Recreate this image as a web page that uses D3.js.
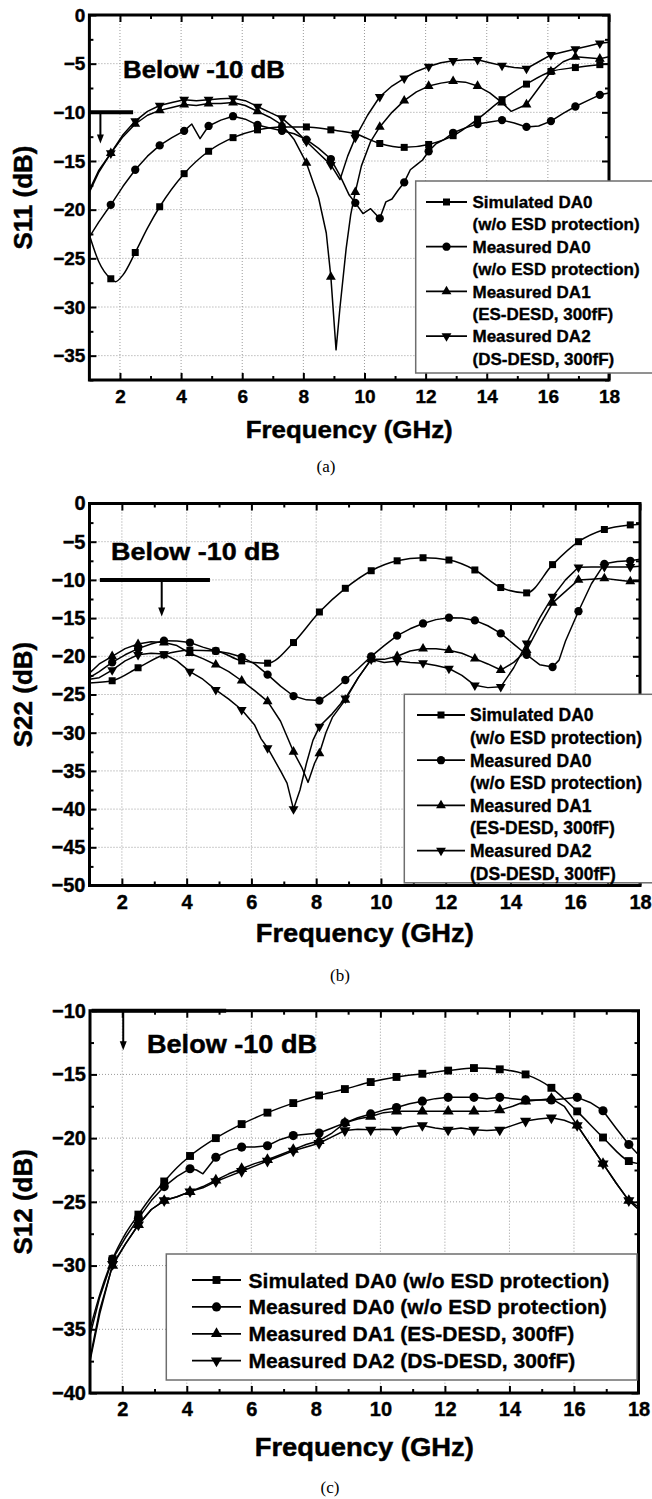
<!DOCTYPE html>
<html>
<head>
<meta charset="utf-8">
<script src="https://cdn.jsdelivr.net/npm/d3@7"></script>
<style>
  body { margin: 0; background: #fff; }
  svg { display: block; }
</style>
</head>
<body>
<svg id="fig" width="652" height="1499"></svg>
<script>
// ---------- data ----------
const freqDomain = [1, 18];
const xTickLabels = [2, 4, 6, 8, 10, 12, 14, 16, 18];
const xMinorTicks = [3, 5, 7, 9, 11, 13, 15, 17];
const markerFreqs = [1.7, 2.5, 3.3, 4.1, 4.9, 5.7, 6.5, 7.3, 8.1, 8.9, 9.7, 10.5,
                     11.3, 12.1, 12.9, 13.7, 14.5, 15.3, 16.1, 16.9, 17.7];

const legendNames = ["Simulated DA0", "Measured DA0", "Measured DA1", "Measured DA2"];
const legendNotes = ["(w/o ESD protection)", "(w/o ESD protection)", "(ES-DESD, 300fF)", "(DS-DESD, 300fF)"];

// S11 (dB) vs frequency (GHz)
const s11Sim = [[1.0,-22.6],[1.3,-25.3],[1.7,-27.1],[1.85,-27.4],[2.1,-26.7],[2.5,-24.4],[2.9,-21.9],[3.3,-19.7],
  [4.1,-16.3],[4.9,-14.0],[5.7,-12.6],[6.5,-11.8],[7.3,-11.5],[8.1,-11.5],[8.9,-11.8],[9.7,-12.2],[10.5,-13.2],
  [11.3,-13.6],[12.1,-13.3],[12.9,-12.4],[13.7,-10.7],[14.5,-8.7],[15.3,-7.1],[16.1,-5.8],[16.9,-5.4],[17.7,-5.1],[18.0,-5.0]];
const s11DA0 = [[1.0,-22.8],[1.3,-21.3],[1.7,-19.5],[2.1,-17.6],[2.5,-15.9],[2.9,-14.5],[3.3,-13.4],[3.7,-12.6],
  [4.1,-11.9],[4.35,-11.2],[4.62,-12.7],[4.9,-11.4],[5.3,-10.8],[5.7,-10.4],[6.1,-10.7],[6.5,-11.3],[6.9,-11.6],
  [7.3,-11.9],[7.7,-12.2],[8.1,-12.8],[8.5,-13.7],[8.9,-14.8],[9.2,-16.5],[9.5,-18.5],[9.7,-19.3],[9.95,-20.4],
  [10.2,-19.9],[10.5,-20.9],[10.7,-19.2],[10.9,-18.9],[11.1,-18.0],[11.3,-17.2],[11.5,-15.9],[11.7,-15.4],
  [11.9,-14.9],[12.1,-14.0],[12.35,-13.2],[12.6,-12.8],[12.9,-12.1],[13.3,-11.6],[13.7,-11.2],[14.1,-11.0],
  [14.5,-10.8],[14.9,-11.1],[15.3,-11.5],[15.7,-11.4],[16.1,-10.9],[16.5,-10.1],[16.9,-9.4],[17.3,-8.8],[17.7,-8.2],[18.0,-8.0]];
const s11DA1 = [[1.0,-18.2],[1.3,-16.2],[1.7,-14.2],[2.1,-12.5],[2.5,-11.2],[2.9,-10.3],[3.3,-9.8],[3.7,-9.5],
  [4.1,-9.2],[4.5,-9.3],[4.9,-9.1],[5.3,-9.1],[5.7,-9.0],[6.1,-9.3],[6.5,-9.9],[6.9,-10.5],[7.3,-11.3],[7.7,-12.8],
  [8.1,-15.2],[8.5,-18.8],[8.75,-22.4],[8.9,-26.9],[9.07,-34.4],[9.2,-30.0],[9.4,-24.0],[9.55,-20.5],[9.7,-18.2],
  [9.9,-15.5],[10.2,-13.0],[10.5,-11.5],[10.9,-10.0],[11.3,-8.8],[11.7,-7.9],[12.1,-7.3],[12.5,-7.0],[12.9,-6.8],
  [13.3,-6.9],[13.7,-7.3],[14.1,-8.0],[14.5,-9.0],[14.8,-9.9],[15.3,-9.2],[15.7,-7.5],[16.1,-5.8],[16.5,-4.8],
  [16.9,-4.3],[17.3,-4.4],[17.7,-4.5],[18.0,-4.3]];
const s11DA2 = [[1.0,-18.0],[1.3,-16.0],[1.7,-14.2],[2.1,-12.3],[2.5,-10.9],[2.9,-9.9],[3.3,-9.3],[3.7,-9.0],
  [4.1,-8.7],[4.5,-8.8],[4.9,-8.7],[5.3,-8.6],[5.7,-8.55],[6.1,-8.8],[6.5,-9.4],[6.9,-10.0],[7.3,-10.6],[7.7,-11.7],
  [8.1,-13.0],[8.5,-14.2],[8.9,-15.4],[9.2,-16.9],[9.45,-14.5],[9.7,-12.6],[10.1,-10.3],[10.5,-8.4],[10.9,-7.3],
  [11.3,-6.5],[11.7,-5.8],[12.1,-5.3],[12.5,-4.9],[12.9,-4.7],[13.3,-4.6],[13.7,-4.6],[14.1,-4.9],[14.5,-5.2],
  [14.9,-5.4],[15.3,-5.5],[15.7,-4.8],[16.1,-4.1],[16.5,-3.8],[16.9,-3.5],[17.3,-3.2],[17.7,-2.9],[18.0,-2.8]];

// S22 (dB) vs frequency (GHz)
const s22Sim = [[1.0,-23.5],[1.7,-23.2],[2.5,-21.5],[3.3,-19.8],[4.1,-19.2],[4.9,-19.3],[5.7,-20.6],[6.5,-20.9],
  [7.3,-18.2],[8.1,-14.2],[8.9,-11.1],[9.7,-8.8],[10.5,-7.5],[11.3,-7.1],[12.1,-7.4],[12.9,-8.7],[13.7,-11.0],
  [14.5,-11.7],[15.3,-8.0],[16.1,-5.0],[16.9,-3.4],[17.7,-2.8],[18.0,-2.7]];
const s22DA0 = [[1.0,-22.8],[1.3,-22.0],[1.7,-20.8],[2.1,-19.8],[2.5,-19.0],[2.9,-18.4],[3.3,-17.95],[3.7,-18.0],
  [4.1,-18.2],[4.5,-18.8],[4.9,-19.3],[5.3,-19.6],[5.7,-20.1],[6.1,-21.0],[6.5,-22.4],[6.9,-23.9],[7.3,-25.2],
  [7.7,-25.7],[8.1,-25.8],[8.5,-24.6],[8.9,-23.1],[9.3,-21.6],[9.7,-20.0],[10.1,-18.6],[10.5,-17.3],[10.9,-16.4],
  [11.3,-15.7],[11.7,-15.2],[12.1,-14.95],[12.5,-15.0],[12.9,-15.3],[13.3,-16.0],[13.7,-17.0],[14.1,-18.4],
  [14.5,-19.8],[14.9,-21.1],[15.3,-21.4],[15.5,-20.5],[15.7,-18.0],[16.1,-14.1],[16.5,-10.5],[16.9,-7.9],
  [17.3,-7.6],[17.7,-7.5],[18.0,-7.3]];
const s22DA1 = [[1.0,-22.2],[1.3,-21.0],[1.7,-20.0],[2.1,-19.0],[2.5,-18.4],[2.9,-18.1],[3.3,-18.2],[3.7,-18.6],
  [4.1,-19.6],[4.5,-20.3],[4.9,-21.1],[5.3,-22.0],[5.7,-23.2],[6.1,-24.5],[6.5,-25.9],[6.9,-28.5],[7.3,-32.5],
  [7.55,-34.5],[7.75,-36.5],[7.95,-34.0],[8.1,-32.7],[8.3,-30.0],[8.5,-28.0],[8.9,-25.7],[9.3,-22.8],[9.7,-20.4],
  [10.1,-20.4],[10.5,-20.0],[10.9,-19.3],[11.3,-19.0],[11.7,-19.0],[12.1,-19.2],[12.5,-19.6],[12.9,-20.3],
  [13.3,-21.0],[13.7,-21.8],[14.1,-20.8],[14.5,-19.2],[14.9,-16.0],[15.3,-13.0],[15.7,-11.5],[16.1,-10.0],
  [16.5,-9.9],[16.9,-9.8],[17.3,-10.0],[17.7,-10.2],[18.0,-10.2]];
const s22DA2 = [[1.0,-23.0],[1.3,-22.8],[1.7,-21.8],[2.1,-20.6],[2.5,-19.8],[2.9,-19.6],[3.3,-19.7],[3.7,-20.6],
  [4.1,-22.0],[4.5,-23.0],[4.9,-24.4],[5.3,-25.6],[5.7,-27.0],[6.1,-29.0],[6.3,-30.8],[6.5,-32.0],[6.7,-33.5],
  [6.9,-35.0],[7.1,-36.6],[7.3,-40.0],[7.5,-37.5],[7.7,-34.0],[7.9,-31.0],[8.1,-29.2],[8.5,-27.5],[8.9,-25.5],
  [9.3,-22.8],[9.7,-20.4],[10.1,-20.8],[10.5,-20.6],[10.9,-20.8],[11.3,-20.9],[11.7,-21.2],[12.1,-21.6],
  [12.5,-22.5],[12.9,-23.8],[13.3,-24.1],[13.7,-24.0],[14.1,-21.5],[14.5,-18.3],[14.9,-15.0],[15.3,-12.2],
  [15.7,-10.0],[16.1,-8.35],[16.5,-8.3],[16.9,-8.3],[17.3,-8.3],[17.7,-8.3],[18.0,-8.2]];

// S12 (dB) vs frequency (GHz)
const s12Sim = [[1.0,-35.0],[1.3,-32.3],[1.7,-29.5],[2.1,-27.5],[2.5,-26.0],[2.9,-24.6],[3.3,-23.4],[3.7,-22.3],
  [4.1,-21.4],[4.9,-20.0],[5.7,-18.9],[6.5,-18.0],[7.3,-17.25],[8.1,-16.65],[8.9,-16.15],[9.7,-15.6],[10.5,-15.2],
  [11.3,-14.95],[12.1,-14.7],[12.9,-14.5],[13.7,-14.6],[14.5,-15.0],[15.3,-16.05],[16.1,-17.9],[16.9,-19.95],
  [17.7,-21.8],[18.0,-22.0]];
const s12DA0 = [[1.0,-35.5],[1.3,-32.5],[1.7,-29.5],[2.1,-27.8],[2.5,-26.3],[2.9,-24.9],[3.3,-23.8],[3.7,-23.0],
  [4.1,-22.4],[4.3,-22.5],[4.5,-22.8],[4.9,-21.5],[5.3,-21.0],[5.7,-20.7],[6.1,-20.7],[6.5,-20.6],[6.9,-20.1],
  [7.3,-19.8],[7.7,-19.7],[8.1,-19.6],[8.5,-19.2],[8.9,-18.8],[9.3,-18.4],[9.7,-18.1],[10.1,-17.8],[10.5,-17.6],
  [10.9,-17.3],[11.3,-17.1],[11.7,-16.9],[12.1,-16.8],[12.5,-16.8],[12.9,-16.8],[13.3,-16.9],[13.7,-16.8],
  [14.1,-16.9],[14.5,-17.0],[14.9,-17.0],[15.3,-17.0],[15.7,-16.9],[16.1,-16.8],[16.5,-17.2],[16.9,-17.85],
  [17.3,-19.2],[17.7,-20.5],[18.0,-21.3]];
const s12DA1 = [[1.0,-37.3],[1.3,-33.5],[1.7,-30.0],[2.1,-28.3],[2.5,-26.8],[2.9,-25.6],[3.3,-24.9],[3.7,-24.6],
  [4.1,-24.2],[4.5,-23.8],[4.9,-23.3],[5.3,-22.8],[5.7,-22.4],[6.1,-22.0],[6.5,-21.7],[6.9,-21.3],[7.3,-20.9],
  [7.7,-20.5],[8.1,-20.2],[8.5,-19.6],[8.9,-18.8],[9.3,-18.5],[9.7,-18.3],[10.1,-18.0],[10.5,-17.9],[10.9,-17.9],
  [11.3,-17.9],[11.7,-17.9],[12.1,-17.9],[12.5,-17.9],[12.9,-17.9],[13.3,-17.9],[13.7,-17.8],[14.1,-17.5],
  [14.5,-17.1],[14.9,-17.0],[15.3,-16.9],[15.7,-17.5],[16.1,-19.0],[16.5,-20.5],[16.9,-22.0],[17.3,-23.5],
  [17.7,-24.9],[18.0,-25.4]];
const s12DA2 = [[1.0,-37.5],[1.3,-33.8],[1.7,-29.9],[2.1,-28.3],[2.5,-26.8],[2.9,-25.6],[3.3,-24.9],[3.7,-24.6],
  [4.1,-24.2],[4.5,-23.9],[4.9,-23.4],[5.3,-23.0],[5.7,-22.6],[6.1,-22.2],[6.5,-21.8],[6.9,-21.4],[7.3,-21.0],
  [7.7,-20.7],[8.1,-20.4],[8.5,-19.9],[8.9,-19.4],[9.3,-19.3],[9.7,-19.35],[10.1,-19.3],[10.5,-19.35],[10.9,-19.1],
  [11.3,-19.0],[11.7,-19.2],[12.1,-19.35],[12.5,-19.2],[12.9,-19.35],[13.3,-19.4],[13.7,-19.35],[14.1,-19.0],
  [14.5,-18.65],[14.9,-18.5],[15.3,-18.4],[15.7,-18.6],[16.1,-19.0],[16.5,-20.5],[16.9,-22.0],[17.3,-23.5],
  [17.7,-24.9],[18.0,-25.6]];

const s11Ticks = [0, -5, -10, -15, -20, -25, -30, -35];
const s22Ticks = [0, -5, -10, -15, -20, -25, -30, -35, -40, -45, -50];
const s12Ticks = [-10, -15, -20, -25, -30, -35, -40];

// ---------- drawing ----------
const FONT = "'Liberation Sans', Arial, Helvetica, sans-serif";
const svg = d3.select("#fig");
const markerKinds = ["square", "circle", "up", "down"];
const minusFmt = d => (d < 0 ? "\u2212" + Math.abs(d) : String(d));

function isMarkerFreq(f) { return markerFreqs.some(m => Math.abs(m - f) < 1e-6); }

function symbolPath(kind, sz) {
  if (kind === "square") return d3.symbol(d3.symbolSquare, sz.square)();
  if (kind === "circle") return d3.symbol(d3.symbolCircle, sz.circle)();
  return d3.symbol(d3.symbolTriangle, sz.tri)();
}

// heavier bold text
function heavy(sel, w) {
  return sel.attr("stroke", "#000").attr("stroke-width", w == null ? 0.45 : w).attr("paint-order", "stroke");
}

function drawPanel(cfg) {
  const x = d3.scaleLinear().domain(freqDomain).range([cfg.left, cfg.right]);
  const y = d3.scaleLinear().domain(cfg.yDomain).range([cfg.bottom, cfg.top]);
  const g = svg.append("g").attr("font-family", FONT).attr("font-weight", "bold");
  const clipId = "clip-" + cfg.id;
  g.append("clipPath").attr("id", clipId).append("rect")
    .attr("x", cfg.left).attr("y", cfg.top)
    .attr("width", cfg.right - cfg.left).attr("height", cfg.bottom - cfg.top);

  // dotted grid at major ticks
  const grid = g.append("g").attr("stroke", "#9a9a9a").attr("stroke-width", 1).attr("stroke-dasharray", "1,2");
  grid.append("g").selectAll("line").data(xTickLabels.filter(v => v < freqDomain[1])).join("line")
    .attr("x1", d => x(d)).attr("x2", d => x(d)).attr("y1", cfg.top).attr("y2", cfg.bottom);
  grid.append("g").selectAll("line").data(cfg.yTicks.filter(v => v > cfg.yDomain[0] && v < cfg.yDomain[1])).join("line")
    .attr("y1", d => y(d)).attr("y2", d => y(d)).attr("x1", cfg.left).attr("x2", cfg.right);

  // curves
  const plot = g.append("g").attr("clip-path", `url(#${clipId})`);
  cfg.series.forEach((vals, i) => {
    const line = d3.line().x(d => x(d[0])).y(d => y(d[1]))
      .curve(i === 0 ? d3.curveMonotoneX : d3.curveLinear);
    plot.append("path").datum(vals).attr("d", line)
      .attr("fill", "none").attr("stroke", "#000").attr("stroke-width", 1.5).attr("stroke-linejoin", "round");
  });
  // markers
  cfg.series.forEach((vals, i) => {
    const kind = markerKinds[i];
    g.append("g").selectAll("path").data(vals.filter(d => isMarkerFreq(d[0]))).join("path")
      .attr("d", symbolPath(kind, cfg.marker))
      .attr("fill", "#000")
      .attr("transform", d => `translate(${x(d[0])},${y(d[1])})` + (kind === "down" ? " rotate(180)" : ""));
  });

  // frame + inward ticks on all sides
  const yMinor = d3.range(cfg.yDomain[0], cfg.yDomain[1] + 0.01, 2.5).filter(v => !cfg.yTicks.includes(v));
  function ticks(axisFn, scale, vals, size, pos, labels, pad, fs) {
    const a = axisFn(scale).tickValues(vals).tickSizeInner(-size).tickSizeOuter(0)
      .tickPadding(pad || 3).tickFormat(labels ? minusFmt : () => "");
    const gg = g.append("g").attr("transform", pos).call(a);
    gg.select(".domain").remove();
    gg.selectAll("line").attr("stroke", "#000").attr("stroke-width", 2);
    gg.attr("font-family", FONT).attr("font-size", fs || 18).attr("font-weight", "bold");
    heavy(gg.selectAll("text").attr("fill", "#000"), 0.4);
    return gg;
  }
  const fs = cfg.tickFont;
  ticks(d3.axisBottom, x, xTickLabels, 7, `translate(0,${cfg.bottom})`, true, cfg.xPad, fs);
  ticks(d3.axisBottom, x, xMinorTicks, 4, `translate(0,${cfg.bottom})`, false);
  ticks(d3.axisTop, x, xTickLabels, 7, `translate(0,${cfg.top})`, false);
  ticks(d3.axisTop, x, xMinorTicks, 4, `translate(0,${cfg.top})`, false);
  ticks(d3.axisLeft, y, cfg.yTicks, 7, `translate(${cfg.left},0)`, true, cfg.yPad, fs);
  ticks(d3.axisLeft, y, yMinor, 4, `translate(${cfg.left},0)`, false);
  ticks(d3.axisRight, y, cfg.yTicks, 7, `translate(${cfg.right},0)`, false);
  ticks(d3.axisRight, y, yMinor, 4, `translate(${cfg.right},0)`, false);
  g.append("rect").attr("x", cfg.left).attr("y", cfg.top)
    .attr("width", cfg.right - cfg.left).attr("height", cfg.bottom - cfg.top)
    .attr("fill", "none").attr("stroke", "#000").attr("stroke-width", 3);

  // "Below -10 dB" marker: bar at -10 dB and arrow pointing down
  const A = cfg.note;
  g.append("line").attr("x1", x(A.bar[0])).attr("x2", x(A.bar[1])).attr("y1", y(-10)).attr("y2", y(-10))
    .attr("stroke", "#000").attr("stroke-width", 4);
  const ax = x(A.arrowF), ay0 = y(-10), ay1 = y(A.arrowTip);
  g.append("line").attr("x1", ax).attr("x2", ax).attr("y1", ay0).attr("y2", ay1 - 6)
    .attr("stroke", "#000").attr("stroke-width", 2);
  g.append("path").attr("d", `M${ax - 3.5},${ay1 - 9}L${ax + 3.5},${ay1 - 9}L${ax},${ay1}Z`).attr("fill", "#000");
  heavy(g.append("text").attr("x", A.textX).attr("y", A.textY).attr("font-size", A.size)
    .attr("textLength", A.len).attr("lengthAdjust", "spacingAndGlyphs").text("Below -10 dB"));

  // legend
  const L = cfg.legend;
  g.append("rect").attr("x", L.x).attr("y", L.y).attr("width", L.w).attr("height", L.h)
    .attr("fill", "#fff").attr("stroke", "#6e6e6e").attr("stroke-width", 1.5);
  cfg.series.forEach((vals, i) => {
    const rows = L.twoLine ? 2 : 1;
    const cy = L.firstRow + i * rows * L.rowGap;
    g.append("line").attr("x1", L.lineX0).attr("x2", L.lineX1).attr("y1", cy).attr("y2", cy)
      .attr("stroke", "#000").attr("stroke-width", 1.8);
    const kind = markerKinds[i];
    g.append("path").attr("d", symbolPath(kind, cfg.legendMarker || cfg.marker)).attr("fill", "#000")
      .attr("transform", `translate(${(L.lineX0 + L.lineX1) / 2},${cy})` + (kind === "down" ? " rotate(180)" : ""));
    const lines = L.twoLine ? [legendNames[i], legendNotes[i]] : [legendNames[i] + " " + legendNotes[i]];
    lines.forEach((t, k) => {
      heavy(g.append("text").attr("x", L.textX).attr("y", cy + k * L.rowGap).attr("dy", "0.36em")
        .attr("font-size", L.font).text(t), 0.35);
    });
  });

  // axis titles and panel tag
  heavy(g.append("text").attr("x", (cfg.left + cfg.right) / 2).attr("y", cfg.xTitleY)
    .attr("text-anchor", "middle").attr("font-size", cfg.titleFont)
    .attr("textLength", cfg.xTitleLen).attr("lengthAdjust", "spacingAndGlyphs").text("Frequency (GHz)"));
  heavy(g.append("text").attr("transform", `translate(${cfg.yTitleX},${(cfg.top + cfg.bottom) / 2}) rotate(-90)`)
    .attr("text-anchor", "middle").attr("font-size", cfg.yTitleFont).text(cfg.yTitle));
  g.append("text").attr("x", cfg.tagX).attr("y", cfg.tagY).attr("text-anchor", "middle")
    .attr("font-family", "'Liberation Serif', 'Times New Roman', serif").attr("font-weight", "normal")
    .attr("font-size", 17).text(cfg.tag);
}

const smallMarker = { square: 49, circle: 54, tri: 42 };
const bigMarker = { square: 62, circle: 66, tri: 54 };

drawPanel({
  id: "a", left: 89.4, right: 609, top: 15, bottom: 380, yDomain: [-37.5, 0], yTicks: s11Ticks,
  series: [s11Sim, s11DA0, s11DA1, s11DA2], yTitle: "S11 (dB)", marker: smallMarker,
  tickFont: 19, xPad: 9.5, yPad: 4, titleFont: 24, xTitleLen: 207, xTitleY: 438, yTitleX: 32, yTitleFont: 26,
  tag: "(a)", tagX: 326, tagY: 472,
  note: { bar: [1.0, 2.43], arrowF: 1.36, arrowTip: -13.2, textX: 123, textY: 78, size: 23.5, len: 162 },
  legend: { x: 415.7, y: 181, w: 250, h: 192, twoLine: true, firstRow: 202, rowGap: 22.35,
            lineX0: 426, lineX1: 467, textX: 472.5, font: 17 }
});

drawPanel({
  id: "b", left: 89.5, right: 640, top: 503.5, bottom: 885.5, yDomain: [-50, 0], yTicks: s22Ticks,
  series: [s22Sim, s22DA0, s22DA1, s22DA2], yTitle: "S22 (dB)", marker: smallMarker,
  tickFont: 20, xPad: 9, yPad: 4, titleFont: 25, xTitleLen: 218, xTitleY: 942, yTitleX: 32, yTitleFont: 26,
  tag: "(b)", tagX: 340, tagY: 981,
  note: { bar: [1.32, 4.72], arrowF: 3.23, arrowTip: -14.8, textX: 111, textY: 560, size: 24, len: 169 },
  legend: { x: 404.3, y: 694.3, w: 260, h: 188.5, twoLine: true, firstRow: 715, rowGap: 22.6,
            lineX0: 417, lineX1: 465, textX: 470, font: 17.5 }
});

drawPanel({
  id: "c", left: 90, right: 638.5, top: 1010.7, bottom: 1393, yDomain: [-40, -10], yTicks: s12Ticks,
  series: [s12Sim, s12DA0, s12DA1, s12DA2], yTitle: "S12 (dB)", marker: bigMarker,
  tickFont: 20, xPad: 9, yPad: 4, titleFont: 25.5, xTitleLen: 219, xTitleY: 1456, yTitleX: 32, yTitleFont: 26,
  tag: "(c)", tagX: 330, tagY: 1493,
  note: { bar: [1.05, 5.22], arrowF: 2.03, arrowTip: -13.1, textX: 147, textY: 1053, size: 25, len: 170 },
  legend: { x: 166.3, y: 1254, w: 470.7, h: 126, twoLine: false, firstRow: 1280, rowGap: 26.9,
            lineX0: 192, lineX1: 241, textX: 248.6, font: 21 },
  legendMarker: bigMarker
});
</script>
</body>
</html>
